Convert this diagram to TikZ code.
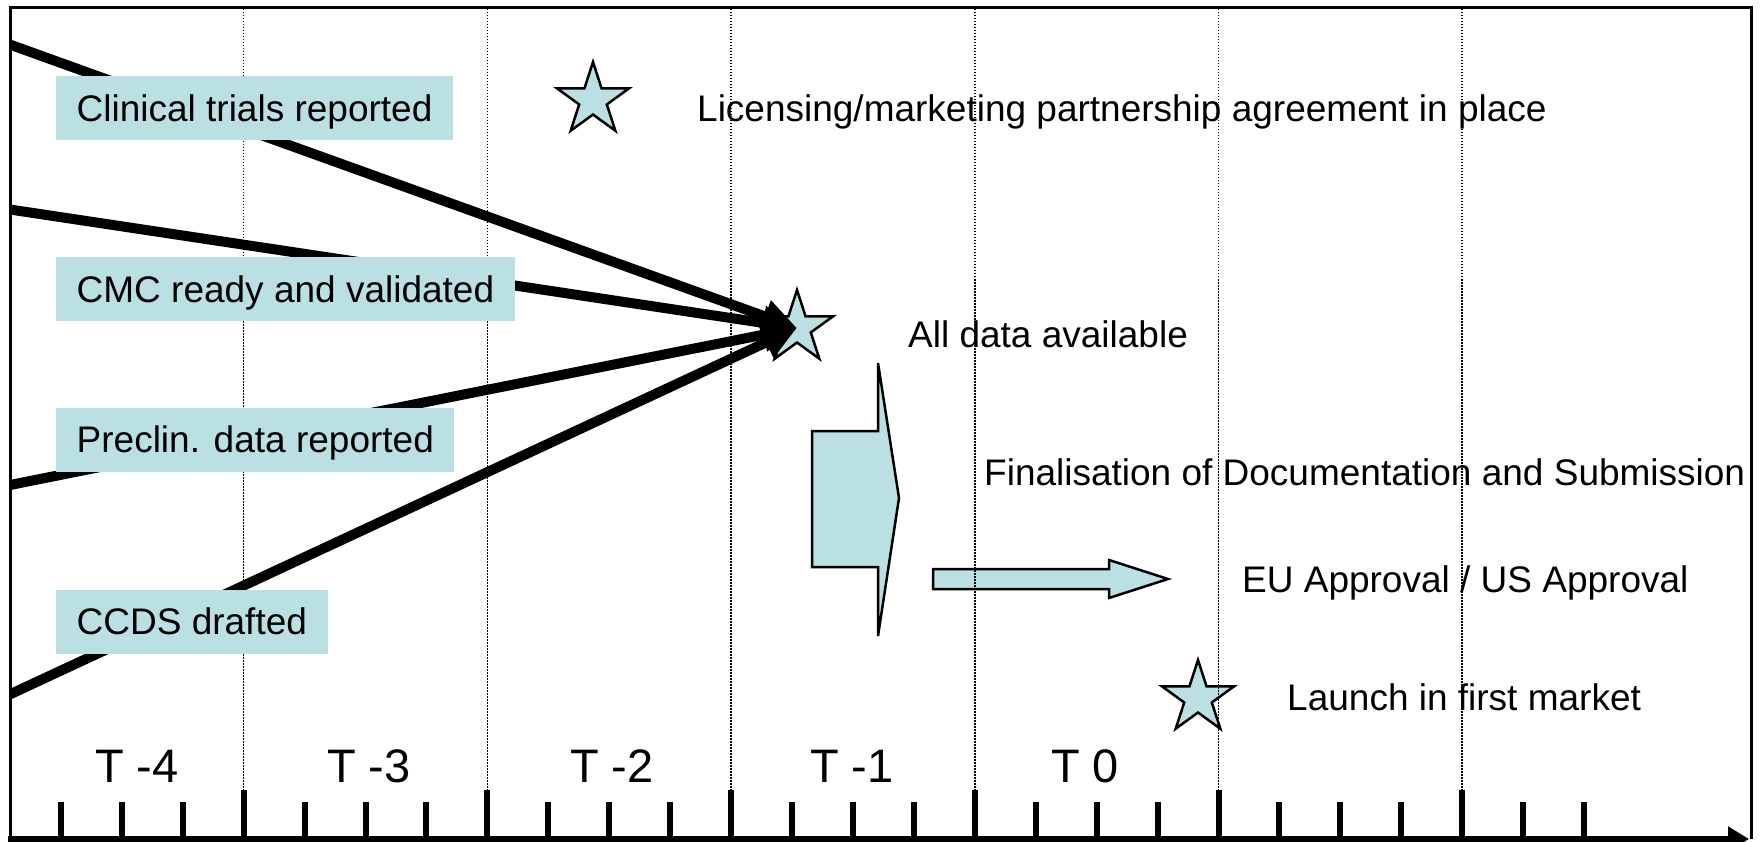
\documentclass[tikz,border=0pt]{standalone}
\usepackage{fontspec}
\setmainfont{Liberation Sans}
\usetikzlibrary{shapes.geometric,arrows.meta}
\definecolor{tealfill}{RGB}{187,224,227}
\begin{document}
\begin{tikzpicture}[x=1pt,y=-1pt,
  starnode/.style={star, star points=5, star point ratio=2.618, draw=black, line width=2.5pt, fill=tealfill, minimum size=76pt, inner sep=0pt},
  lbl/.style={anchor=base west, inner sep=0pt, font=\fontsize{37pt}{44pt}\selectfont},
  tlbl/.style={anchor=base, inner sep=0pt, font=\fontsize{47pt}{56pt}\selectfont},
  boxnode/.style={anchor=west, fill=tealfill, inner xsep=20.5pt, inner ysep=0pt, minimum height=64pt, text height=26.6pt, text depth=0pt, font=\fontsize{37pt}{44pt}\selectfont},
  vgrid/.style={line width=1.5pt, dash pattern=on 1.5pt off 1.5pt},
  tickmark/.style={line width=6pt},
  feeder/.style={line width=10pt, -{Triangle[length=34pt,width=32pt]}},
  blockarrow/.style={fill=tealfill, draw=black, line width=2.5pt, line join=miter}
]
\useasboundingbox (0,0) rectangle (1762,842);
\fill[white] (0,0) rectangle (1762,842);

% stars
\node[starnode] (licstar) at (593,100) {};
\node[starnode] (datastar) at (797,328) {};
\node[starnode] (launchstar) at (1198,698) {};

% block arrows
\draw[blockarrow] (812,431) -- (878,431) -- (878,363) -- (899,498) -- (878,636) -- (878,567) -- (812,567) -- cycle;
\draw[blockarrow] (933,569) -- (1109,569) -- (1109,560) -- (1168,579) -- (1109,598) -- (1109,589) -- (933,589) -- cycle;

% free texts
\node[lbl] (lic) at (697,122) {Licensing/marketing partnership agreement in place};
\node[lbl] (alld) at (908,348) {All data available};
\node[lbl] (fin) at (984,485) {Finalisation of Documentation and Submission};
\node[lbl] (eu) at (1242,592) {EU Approval / US Approval};
\node[lbl] (lau) at (1287,710) {Launch in first market};

% period labels
\node[tlbl] (t4) at (137,782) {T -4};
\node[tlbl] (t3) at (369,782) {T -3};
\node[tlbl] (t2) at (612,782) {T -2};
\node[tlbl] (t1) at (852,782) {T -1};
\node[tlbl] (t0) at (1085,782) {T 0};

% dotted grid lines
\foreach \k in {1,...,6} {
  \draw[vgrid] (243.7*\k,9) -- (243.7*\k,790);
}

% ticks
\foreach \k in {1,...,6} {
  \draw[tickmark] (243.7*\k,790) -- (243.7*\k,839);
}
\foreach \k in {1,2,3,5,6,7,9,10,11,13,14,15,17,18,19,21,22,23,25,26} {
  \draw[tickmark] (60.925*\k,802) -- (60.925*\k,839);
}

% frame and axis
\coordinate (fbl) at (10,839);
\coordinate (ftl) at (10,8);
\coordinate (ftr) at (1751,8);
\coordinate (fbr) at (1751,839);
\draw[line width=3pt] (fbl) -- (ftl) -- (ftr) -- (fbr);
\coordinate (axl) at (8,839);
\coordinate (axr) at (1749,839);
\draw[line width=6pt, -{Triangle[length=21pt,width=24pt]}] (axl) -- (axr);

% feeder arrows
\coordinate (s1) at (0,41);
\coordinate (s2) at (0,208);
\coordinate (s3) at (0,487);
\coordinate (s4) at (0,699);
\begin{scope}
  \clip (11,9) rectangle (1750,836);
  \draw[feeder] (s1) -- (datastar.center);
  \draw[feeder] (s2) -- (datastar.center);
  \draw[feeder] (s3) -- (datastar.center);
  \draw[feeder] (s4) -- (datastar.center);
\end{scope}

% boxes
\node[boxnode] (clin) at (56,108.5) {Clinical trials reported};
\node[boxnode] (cmc) at (56,289.5) {CMC ready and validated};
\node[boxnode] (precl) at (56,439.5) {Preclin. data reported};
\node[boxnode] (ccds) at (56,621.5) {CCDS drafted};
\end{tikzpicture}
\end{document}
